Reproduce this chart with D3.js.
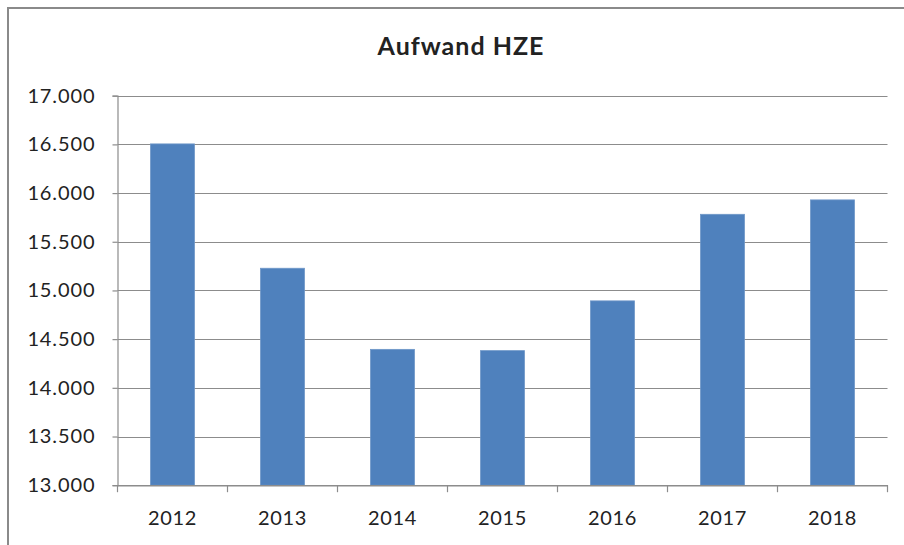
<!DOCTYPE html>
<html>
<head>
<meta charset="utf-8">
<script src="https://cdn.jsdelivr.net/npm/d3@7"></script>
<style>
html,body{margin:0;padding:0;background:#fff;}
svg{display:block;}
text{font-family:Lato,"Open Sans",sans-serif;fill:#222;}
</style>
</head>
<body>
<script>
const categories = ["2012","2013","2014","2015","2016","2017","2018"];
const values = [16505, 15228, 14395, 14382, 14893, 15782, 15930];
const yTicks = [13000,13500,14000,14500,15000,15500,16000,16500,17000];
const title = "Aufwand HZE";

const W = 904, H = 545;
const m = {left:117.5, right:887.5, top:95.7, bottom:485.2};

const svg = d3.select("body").append("svg").attr("width",W).attr("height",H);

svg.append("rect").attr("x",8).attr("y",8).attr("width",W+10).attr("height",H+10)
  .attr("fill","#fff").attr("stroke","#8a8a8a").attr("stroke-width",2);

const x = d3.scaleBand().domain(categories).range([m.left,m.right]).paddingInner(0.6).paddingOuter(0.3);
const y = d3.scaleLinear().domain([13000,17000]).range([m.bottom,m.top]);

const fmt = v => d3.format(",")(v).replace(/,/g,".");

// gridlines
svg.append("g").selectAll("line").data(yTicks.filter(t=>t>13000)).join("line")
  .attr("x1",m.left).attr("x2",m.right)
  .attr("y1",d=>Math.round(y(d))+0.5).attr("y2",d=>Math.round(y(d))+0.5)
  .attr("stroke","#8c8c8c").attr("stroke-width",1.2);

// y axis
const ya = svg.append("g").attr("transform",`translate(${m.left},0)`)
  .call(d3.axisLeft(y).tickValues(yTicks).tickFormat(fmt).tickSize(5).tickPadding(17));
ya.select(".domain").attr("stroke","#8c8c8c").attr("stroke-width",1.2);
ya.selectAll(".tick line").attr("stroke","#8c8c8c").attr("stroke-width",1.2);
ya.selectAll("text").style("font-size","20px").style("letter-spacing","0.9px")
  .style("font-family","Lato, 'Open Sans', sans-serif").attr("fill","#222");

// bars
svg.append("g").selectAll("rect").data(categories).join("rect")
  .attr("x",d=>x(d)).attr("width",x.bandwidth())
  .attr("y",(d,i)=>y(values[i])).attr("height",(d,i)=>y(13000)-y(values[i]))
  .attr("fill","#4f81bd").attr("stroke","#6f97c8").attr("stroke-width",0.8);

// x axis
const xa = svg.append("g").attr("transform",`translate(0,${m.bottom})`)
  .call(d3.axisBottom(x).tickSize(0).tickPadding(26));
xa.select(".domain").attr("stroke","#8c8c8c").attr("stroke-width",1.5);
xa.selectAll("text").style("font-size","20px").style("letter-spacing","0.6px")
  .style("font-family","Lato, 'Open Sans', sans-serif").attr("fill","#222");
const step = x.step();
xa.append("g").selectAll("line").data(d3.range(categories.length+1)).join("line")
  .attr("x1",i=>m.left+i*step).attr("x2",i=>m.left+i*step)
  .attr("y1",0).attr("y2",7).attr("stroke","#8c8c8c").attr("stroke-width",1.2);

svg.append("text").attr("x",461).attr("y",55).attr("text-anchor","middle")
  .style("font-size","25px").style("font-weight","bold").style("letter-spacing","1px").text(title);
</script>
</body>
</html>
